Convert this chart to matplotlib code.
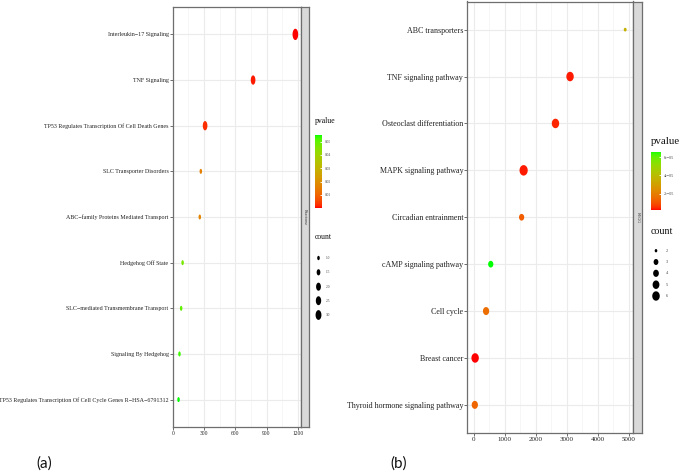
import numpy as np
import matplotlib
matplotlib.use("Agg")
import matplotlib.pyplot as plt
from matplotlib.path import Path
from matplotlib.colors import ListedColormap, Normalize
from matplotlib.cm import ScalarMappable

# ---------------- data ----------------
# Panel (a) Reactome
terms_a = [
    "Interleukin\u221217 Signaling",
    "TNF Signaling",
    "TP53 Regulates Transcription Of Cell Death Genes",
    "SLC Transporter Disorders",
    "ABC\u2212family Proteins Mediated Transport",
    "Hedgehog Off State",
    "SLC\u2212mediated Transmembrane Transport",
    "Signaling By Hedgehog",
    "TP53 Regulates Transcription Of Cell Cycle Genes R\u2212HSA\u22126791312",
]
xval_a = [1177, 771, 310, 269, 259, 94, 80, 64, 55]
pval_a = [0.0002, 0.0012, 0.0025, 0.016, 0.017, 0.047, 0.050, 0.053, 0.055]
count_a = [3, 2, 2, 1, 1, 1, 1, 1, 1]
xticks_a = [0, 300, 600, 900, 1200]
pticks_a = [0.01, 0.02, 0.03, 0.04, 0.05]
pticklabels_a = ["0.01", "0.02", "0.03", "0.04", "0.05"]
cbreaks_a = [1.0, 1.5, 2.0, 2.5, 3.0]
clabels_a = ["1.0", "1.5", "2.0", "2.5", "3.0"]
strip_a = "Reactome"

# Panel (b) KEGG
terms_b = [
    "ABC transporters",
    "TNF signaling pathway",
    "Osteoclast differentiation",
    "MAPK signaling pathway",
    "Circadian entrainment",
    "cAMP signaling pathway",
    "Cell cycle",
    "Breast cancer",
    "Thyroid hormone signaling pathway",
]
xval_b = [4884, 3105, 2635, 1607, 1542, 546, 395, 42, 32]
pval_b = [3.6e-05, 3e-06, 4e-06, 3e-06, 1.2e-05, 6.6e-05, 1.6e-05, 2e-06, 1.4e-05]
count_b = [2, 5, 5, 6, 3, 3, 4, 5, 4]
xticks_b = [0, 1000, 2000, 3000, 4000, 5000]
pticks_b = [2e-05, 4e-05, 6e-05]
pticklabels_b = ["2e\u221205", "4e\u221205", "6e\u221205"]
cbreaks_b = [2, 3, 4, 5, 6]
clabels_b = ["2", "3", "4", "5", "6"]
strip_b = "KEGG"

# ---------------- helpers ----------------
def _to_lin(c):
    c = np.asarray(c, float)
    return np.where(c <= 0.04045, c / 12.92, ((c + 0.055) / 1.055) ** 2.4)

def _to_srgb(c):
    c = np.clip(c, 0, 1)
    return np.where(c <= 0.0031308, 12.92 * c, 1.055 * c ** (1 / 2.4) - 0.055)

_M = np.array([[0.4124, 0.3576, 0.1805], [0.2126, 0.7152, 0.0722], [0.0193, 0.1192, 0.9505]])
_Mi = np.linalg.inv(_M)
_WN = np.array([0.95047, 1.0, 1.08883])
_d = 6 / 29

def _f(t):
    return np.where(t > _d ** 3, np.cbrt(t), t / (3 * _d ** 2) + 4 / 29)

def _finv(t):
    return np.where(t > _d, t ** 3, 3 * _d ** 2 * (t - 4 / 29))

def rgb2lab(rgb):
    xyz = _M @ _to_lin(rgb) / _WN
    fx, fy, fz = _f(xyz)
    return np.array([116 * fy - 16, 500 * (fx - fy), 200 * (fy - fz)])

def lab2rgb(lab):
    L, a, b = lab
    fy = (L + 16) / 116
    xyz = np.array([_finv(fy + a / 500), _finv(fy), _finv(fy - b / 200)]) * _WN
    return np.clip(_to_srgb(_Mi @ xyz), 0, 1)

lab_lo = rgb2lab([1.0, 0.0, 0.0])
lab_hi = rgb2lab([0.0, 1.0, 0.0])
cmap = ListedColormap([lab2rgb(lab_lo + t * (lab_hi - lab_lo)) for t in np.linspace(0, 1, 256)])

def ellipse_marker(aspect):
    th = np.linspace(0, 2 * np.pi, 60)
    return Path(np.column_stack([0.5 * aspect * np.cos(th), 0.5 * np.sin(th)]), closed=True)

def size_from_px(h_px):
    return (np.asarray(h_px) * 72.0 / 100.0) ** 2

W, H = 681, 472
fig = plt.figure(figsize=(W / 100, H / 100), dpi=100)
fig.patch.set_facecolor("white")

def px_axes(x0, x1, y0, y1):
    return fig.add_axes([x0 / W, 1 - y1 / H, (x1 - x0) / W, (y1 - y0) / H])

SERIF = "Liberation Serif"
BORDER = "#6e6e6e"


def draw_panel(box, terms, xv, pv, cnt, xticks, ytfs, xtfs, aspect, hmap, strip_box, strip_txt):
    ax = px_axes(*box)
    n = len(terms)
    ypos = np.arange(n, 0, -1)
    norm = Normalize(min(pv), max(pv))
    xr = max(xv) - min(xv)
    ax.set_yticks(ypos)
    ax.set_yticklabels(terms, fontfamily=SERIF, fontsize=ytfs, color="#222222")
    ax.set_xticks(xticks)
    ax.set_xticklabels([str(t) for t in xticks], fontfamily=SERIF, fontsize=xtfs, color="#222222")
    step = xticks[1] - xticks[0]
    minor = [xticks[0] - step / 2] + [t + step / 2 for t in xticks]
    ax.set_xticks(minor, minor=True)
    ax.set_xlim(min(xv) - 0.05 * xr, max(xv) + 0.05 * xr)
    ax.set_ylim(0.4, n + 0.6)
    ax.tick_params(axis="both", which="major", length=2, width=0.6, color="#555555", pad=1)
    ax.tick_params(axis="x", which="minor", length=0)
    ax.grid(True, which="major", color="#ebebeb", lw=0.8, zorder=0)
    ax.grid(True, which="minor", axis="x", color="#f3f3f3", lw=0.5, zorder=0)
    ax.set_axisbelow(True)
    for s in ax.spines.values():
        s.set_color(BORDER)
        s.set_linewidth(0.9)
    sizes = size_from_px(hmap(np.asarray(cnt, float)))
    ax.scatter(xv, ypos, s=sizes, c=pv, cmap=cmap, norm=norm,
               marker=ellipse_marker(aspect), edgecolors="none", zorder=3)
    # strip
    sx0, sx1, sy0, sy1 = strip_box
    sax = px_axes(sx0, sx1, sy0, sy1)
    sax.set_xticks([]); sax.set_yticks([])
    sax.set_facecolor("#d9d9d9")
    for s in sax.spines.values():
        s.set_color(BORDER)
        s.set_linewidth(0.9)
    sax.text(0.5, 0.5, strip_txt, rotation=270, ha="center", va="center",
             fontfamily=SERIF, fontsize=3, color="#333333", transform=sax.transAxes)
    return ax, norm


hmap_a = lambda c: np.interp(c, [1, 2, 3], [5.0, 9.3, 11.3])
hmap_b = lambda c: np.interp(c, [2, 3, 4, 5, 6], [3.7, 6.7, 8.0, 9.5, 10.5])

ax_a, norm_a = draw_panel((172.7, 301.2, 7, 427), terms_a, xval_a, pval_a, count_a, xticks_a,
                          4.3, 4.0, 0.5, hmap_a, (301.2, 308.5, 7, 427), strip_a)
ax_b, norm_b = draw_panel((467.3, 632.7, 1.5, 433), terms_b, xval_b, pval_b, count_b, xticks_b,
                          5.8, 5.0, 0.78, hmap_b, (632.7, 642.3, 1.5, 433), strip_b)

# ---------------- legends ----------------
ov = fig.add_axes([0, 0, 1, 1], zorder=-1)
ov.set_xlim(0, W)
ov.set_ylim(H, 0)
ov.axis("off")


def colorbar(norm, box, ticks, labels, tfs):
    cax = px_axes(*box)
    cb = fig.colorbar(ScalarMappable(norm=norm, cmap=cmap), cax=cax)
    cb.outline.set_visible(False)
    cb.set_ticks(ticks)
    cb.set_ticklabels(labels)
    cax.tick_params(axis="y", direction="in", color="white", length=1.5, width=0.6,
                    labelsize=tfs, pad=2, labelcolor="#444444")
    for t in cax.get_yticklabels():
        t.set_fontfamily(SERIF)


# panel a legends
ov.text(315, 121, "pvalue", fontfamily=SERIF, fontsize=5.6, ha="left", va="center", color="#111111")
colorbar(norm_a, (315, 321.7, 135, 208), pticks_a, pticklabels_a, 2.6)
ov.text(315, 237, "count", fontfamily=SERIF, fontsize=5.5, ha="left", va="center", color="#111111")
ya = [258, 272.3, 286.7, 300.7, 315]
ov.scatter([318.5] * len(cbreaks_a), ya, s=size_from_px(hmap_a(np.asarray(cbreaks_a))) * 0.75,
           c="black", marker=ellipse_marker(0.6), edgecolors="none")
for y, lab in zip(ya, clabels_a):
    ov.text(325.5, y, lab, fontfamily=SERIF, fontsize=2.6, ha="left", va="center", color="#444444")

# panel b legends
ov.text(651, 141, "pvalue", fontfamily=SERIF, fontsize=7.8, ha="left", va="center", color="#111111")
colorbar(norm_b, (651, 660.7, 151.7, 210), pticks_b, pticklabels_b, 3.0)
ov.text(651, 232, "count", fontfamily=SERIF, fontsize=7.2, ha="left", va="center", color="#111111")
yb = [250.7, 262, 273.3, 284.7, 296]
ov.scatter([656] * len(cbreaks_b), yb, s=size_from_px(hmap_b(np.asarray(cbreaks_b, float))) * 0.8,
           c="black", marker=ellipse_marker(0.8), edgecolors="none")
for y, lab in zip(yb, clabels_b):
    ov.text(666, y, lab, fontfamily=SERIF, fontsize=3.2, ha="left", va="center", color="#444444")

# panel tags
ov.text(44, 464, "(a)", fontfamily="Lato", fontsize=11, ha="center", va="center", color="#111111")
ov.text(398.5, 464, "(b)", fontfamily="Lato", fontsize=11, ha="center", va="center", color="#111111")

fig.savefig("out.png", dpi=100, facecolor="white")
